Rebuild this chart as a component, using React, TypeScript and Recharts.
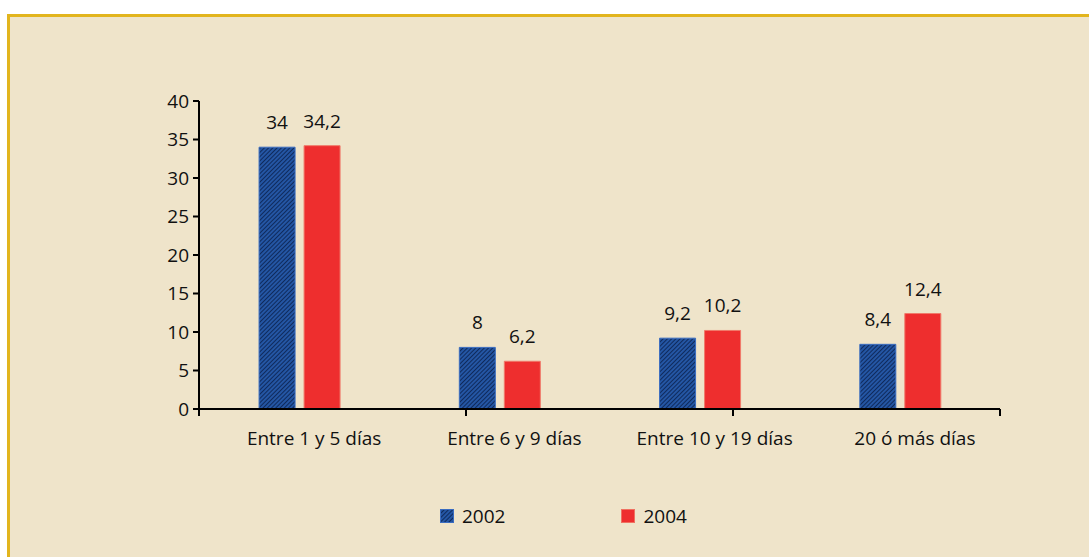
import { Bar, BarChart, LabelList, Legend, XAxis, YAxis } from "recharts";

const categories = ["Entre 1 y 5 días", "Entre 6 y 9 días", "Entre 10 y 19 días", "20 ó más días"];
const values2002 = [34, 8, 9.2, 8.4];
const values2004 = [34.2, 6.2, 10.2, 12.4];
const yTicks = [0, 5, 10, 15, 20, 25, 30, 35, 40];
const bandTicks = [0, 1, 2, 3, 4];

const data = categories.map((name, i) => ({
  name,
  y2002: values2002[i],
  y2004: values2004[i],
}));

const FONT = "'Open Sans', Lato, sans-serif";
const SIZE = 19;
const fmt = (v: number) => String(v).replace(".", ",");

function LegendContent() {
  const items = [
    { label: "2002", fill: "url(#hatch)" },
    { label: "2004", fill: "#EE2E2E" },
  ];
  return (
    <div style={{ display: "flex", fontFamily: FONT, fontSize: SIZE, color: "#111" }}>
      {items.map((it, i) => (
        <div key={it.label} style={{ display: "flex", alignItems: "center", marginLeft: i ? 116 : 0 }}>
          <svg width={14} height={14} style={{ marginRight: 8 }}>
            <rect x={0.5} y={0.5} width={13} height={13} fill={it.fill} stroke={i ? "#F07060" : "#3A6CC0"} />
          </svg>
          <span>{it.label}</span>
        </div>
      ))}
    </div>
  );
}

export default function App() {
  return (
    <div style={{ position: "absolute", top: 0, left: 0, width: 1089, height: 557, background: "#fff" }}>
      <div
        style={{
          position: "absolute",
          left: 7,
          top: 14,
          right: 0,
          bottom: 0,
          background: "#EFE4CA",
          borderTop: "3px solid #E2B51E",
          borderLeft: "3px solid #E2B51E",
        }}
      />
      <div style={{ position: "absolute", top: 0, left: 0 }}>
        <BarChart
          width={1089}
          height={557}
          data={data}
          margin={{ top: 101, right: 89, left: 154, bottom: 86 }}
          barCategoryGap="30%"
          barGap={9}
        >
          <defs>
            <pattern id="hatch" width={3} height={3} patternUnits="userSpaceOnUse" patternTransform="rotate(45)">
              <rect width={3} height={3} fill="#2456A4" />
              <line x1={0} y1={0} x2={0} y2={3} stroke="#0F2A5C" strokeWidth={2} />
            </pattern>
          </defs>
          <XAxis
            xAxisId="band"
            type="number"
            domain={[0, 4]}
            ticks={bandTicks}
            tickFormatter={() => ""}
            tick={{ fontSize: 0 }}
            height={6}
            tickSize={7}
            stroke="#000"
            strokeWidth={2}
            allowDataOverflow
          />
          <XAxis
            xAxisId="cat"
            dataKey="name"
            axisLine={false}
            tickLine={false}
            height={30}
            tick={{ fill: "#111", fontSize: SIZE, fontFamily: FONT, dx: 15 }}
            tickMargin={11}
          />
          <YAxis
            domain={[0, 40]}
            ticks={yTicks}
            width={45}
            stroke="#000"
            strokeWidth={2}
            tickSize={6}
            tickMargin={4}
            tick={{ fill: "#111", fontSize: SIZE, fontFamily: FONT }}
            interval={0}
          />
          <Legend verticalAlign="bottom" content={<LegendContent />} wrapperStyle={{ top: 503, left: 440, width: 320 }} />
          <Bar xAxisId="cat" dataKey="y2002" name="2002" fill="url(#hatch)" stroke="#3A6CC0" strokeWidth={1} isAnimationActive={false}>
            <LabelList dataKey="y2002" position="top" offset={18} formatter={fmt} style={{ fill: "#111", fontSize: SIZE, fontFamily: FONT }} />
          </Bar>
          <Bar xAxisId="cat" dataKey="y2004" name="2004" fill="#EE2E2E" stroke="#F07A6A" strokeWidth={1} isAnimationActive={false}>
            <LabelList dataKey="y2004" position="top" offset={18} formatter={fmt} style={{ fill: "#111", fontSize: SIZE, fontFamily: FONT }} />
          </Bar>
        </BarChart>
      </div>
    </div>
  );
}
